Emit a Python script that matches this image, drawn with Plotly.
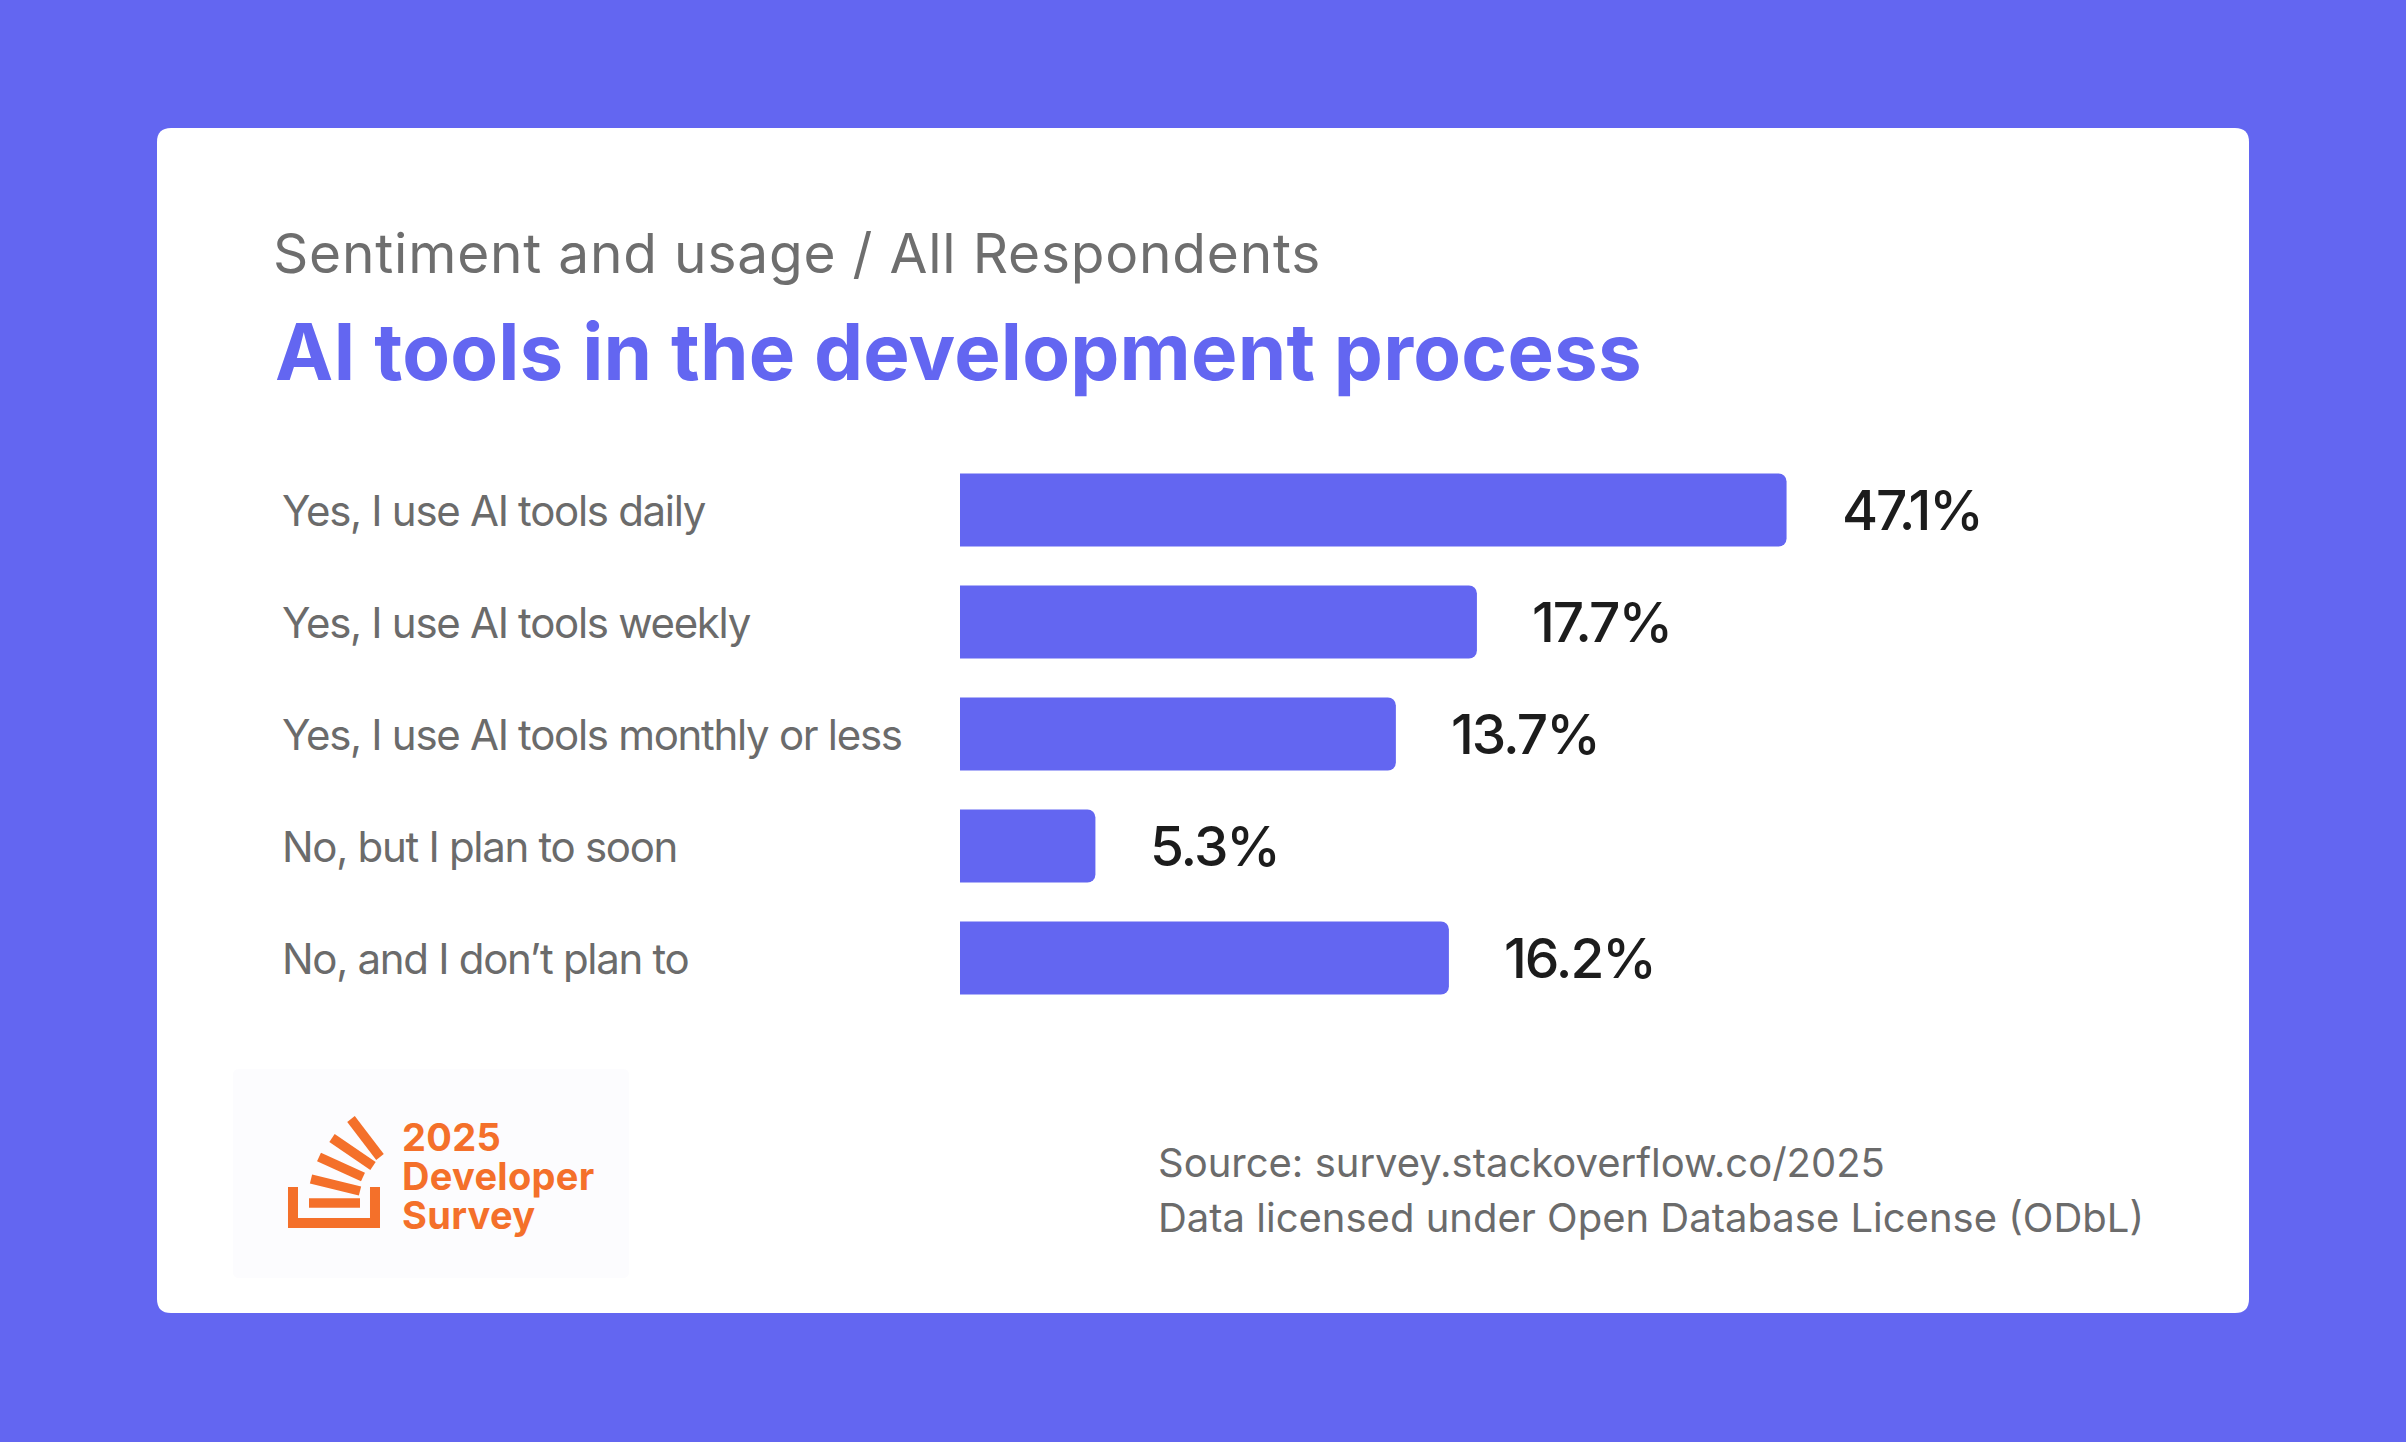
import math
import plotly.graph_objects as go

# ---------------- data ----------------
categories = [
    "Yes, I use AI tools daily",
    "Yes, I use AI tools weekly",
    "Yes, I use AI tools monthly or less",
    "No, but I plan to soon",
    "No, and I don’t plan to",
]
values = [47.1, 17.7, 13.7, 5.3, 16.2]
value_labels = ["47.1%", "17.7%", "13.7%", "5.3%", "16.2%"]

subtitle = "Sentiment and usage / All Respondents"
title = "AI tools in the development process"
source_lines = ["Source: survey.stackoverflow.co/2025",
                "Data licensed under Open Database License (ODbL)"]
logo_lines = ["2025", "Developer", "Survey"]

# ---------------- layout geometry ----------------
W, H = 2406, 1442
PL, PR = 960, 2200          # plot area (pixels)
PT, PB = 454, 1014
BG = "#6366F1"
BAR = "#6366F1"
ORANGE = "#F4702A"
FONT = "Inter"

LOG0 = 0.5384               # axis left edge (log10 units)
PX_PER_DECADE = 728.5
xrange_ = [LOG0, LOG0 + (PR - PL) / PX_PER_DECADE]


def px2x(px):
    return (px - PL) / (PR - PL)


def px2y(py):
    return (PB - py) / (PB - PT)


def pt(px, py):
    return f"{px2x(px):.5f},{px2y(py):.5f}"


def rounded_rect(x0, y0, x1, y1, r):
    return (f"M {pt(x0 + r, y0)} L {pt(x1 - r, y0)} Q {pt(x1, y0)} {pt(x1, y0 + r)} "
            f"L {pt(x1, y1 - r)} Q {pt(x1, y1)} {pt(x1 - r, y1)} "
            f"L {pt(x0 + r, y1)} Q {pt(x0, y1)} {pt(x0, y1 - r)} "
            f"L {pt(x0, y0 + r)} Q {pt(x0, y0)} {pt(x0 + r, y0)} Z")


def thick_line(p0, p1, t):
    (x0, y0), (x1, y1) = p0, p1
    dx, dy = x1 - x0, y1 - y0
    ln = math.hypot(dx, dy)
    nx, ny = -dy / ln * t / 2, dx / ln * t / 2
    pts = [(x0 + nx, y0 + ny), (x1 + nx, y1 + ny), (x1 - nx, y1 - ny), (x0 - nx, y0 - ny)]
    return "M " + " L ".join(pt(a, b) for a, b in pts) + " Z"


def sp(text, ls):
    return f'<span style="letter-spacing:{ls}px">{text}</span>'


fig = go.Figure()
fig.add_trace(go.Bar(
    x=values, y=categories, orientation="h",
    marker=dict(color=BAR, cornerradius=8, line=dict(width=0)),
    hoverinfo="skip",
))

shapes = []
# white card
shapes.append(dict(type="path", xref="paper", yref="paper", layer="below",
                   path=rounded_rect(157, 128, 2249, 1313, 14),
                   fillcolor="white", line=dict(width=0)))
# logo background
shapes.append(dict(type="path", xref="paper", yref="paper", layer="below",
                   path=rounded_rect(233, 1069, 629, 1278, 6),
                   fillcolor="#FCFCFE", line=dict(width=0)))
# logo tray
tray = [(288, 1187), (288, 1228), (380, 1228), (380, 1187), (370, 1187),
        (370, 1218), (298, 1218), (298, 1187)]
shapes.append(dict(type="path", xref="paper", yref="paper",
                   path="M " + " L ".join(pt(a, b) for a, b in tray) + " Z",
                   fillcolor=ORANGE, line=dict(width=0)))
logo_bars = [((309, 1203), (360, 1203)), ((311, 1179), (360, 1191)),
             ((319, 1157), (363, 1177)), ((332, 1138), (373, 1166)),
             ((351, 1119), (380, 1157))]
for p0, p1 in logo_bars:
    shapes.append(dict(type="path", xref="paper", yref="paper",
                       path=thick_line(p0, p1, 9.5),
                       fillcolor=ORANGE, line=dict(width=0)))

ann = []
# subtitle + title
ann.append(dict(text=sp(subtitle, 0.8), x=px2x(271), y=px2y(253), xref="paper", yref="paper",
                xanchor="left", yanchor="middle", showarrow=False,
                font=dict(family=FONT, size=55, color="#6E6E6E", weight=400)))
ann.append(dict(text=sp(title, 0.2), x=px2x(273), y=px2y(351), xref="paper", yref="paper",
                xanchor="left", yanchor="middle", showarrow=False,
                font=dict(family=FONT, size=78, color=BG, weight=700)))
# category labels
for c in categories:
    ann.append(dict(text=sp(c, -1.3), x=px2x(280), y=c, xref="paper", yref="y",
                    xanchor="left", yanchor="middle", showarrow=False,
                    font=dict(family=FONT, size=42, color="#6B6B6B", weight=400)))
# value labels
for c, v, lab in zip(categories, values, value_labels):
    ann.append(dict(text=sp(lab, -2.0), x=math.log10(v), y=c, xref="x", yref="y",
                    xanchor="left", yanchor="middle", showarrow=False, xshift=53,
                    font=dict(family=FONT, size=55, color="#1C1C1C", weight=500)))
# source
for i, line in enumerate(source_lines):
    ann.append(dict(text=sp(line, 0.0), x=px2x(1156), y=px2y(1162.5 + 54.5 * i),
                    xref="paper", yref="paper", xanchor="left", yanchor="middle",
                    showarrow=False,
                    font=dict(family=FONT, size=40, color="#6B6B6B", weight=400)))
# logo text
for i, line in enumerate(logo_lines):
    ann.append(dict(text=sp(line, 0.3), x=px2x(400), y=px2y(1136.5 + 39 * i),
                    xref="paper", yref="paper", xanchor="left", yanchor="middle",
                    showarrow=False,
                    font=dict(family=FONT, size=38, color=ORANGE, weight=700)))

fig.update_layout(
    width=W, height=H,
    margin=dict(l=PL, r=W - PR, t=PT, b=H - PB, pad=0),
    paper_bgcolor=BG, plot_bgcolor="rgba(0,0,0,0)",
    showlegend=False, bargap=0.348,
    xaxis=dict(type="log", range=xrange_, visible=False, showgrid=False, zeroline=False,
               fixedrange=True),
    yaxis=dict(type="category", categoryorder="array", categoryarray=categories,
               range=[4.5, -0.5], visible=False, showgrid=False, fixedrange=True),
    shapes=shapes, annotations=ann,
    font=dict(family=FONT),
)

fig.write_html("out.html", config=dict(displayModeBar=False))
